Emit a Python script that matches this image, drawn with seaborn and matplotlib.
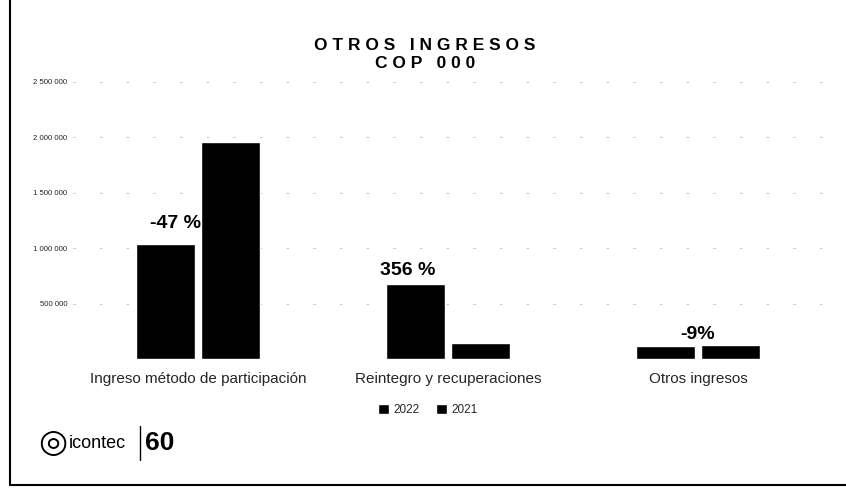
import matplotlib
matplotlib.use("Agg")
import matplotlib.pyplot as plt
import seaborn as sns
import pandas as pd
from matplotlib.lines import Line2D
from matplotlib.ticker import FuncFormatter

# ---- data ----
categories = ["Ingreso método de participación", "Reintegro y recuperaciones", "Otros ingresos"]
years = ["2022", "2021"]
values_2022 = [1040000, 675000, 118000]
values_2021 = [1960000, 148000, 130000]
pct_labels = ["-47 %", "356 %", "-9%"]
y_ticks = [500000, 1000000, 1500000, 2000000, 2500000]

sns.set_theme(style="white")
plt.rcParams["font.family"] = ["Liberation Sans", "DejaVu Sans"]

df = pd.DataFrame({
    "categoria": categories * 2,
    "año": [years[0]] * 3 + [years[1]] * 3,
    "valor": values_2022 + values_2021,
})

fig = plt.figure(figsize=(8.46, 5.0), dpi=100)
ax = fig.add_axes([73 / 846, 1 - 359 / 500, 750 / 846, 289 / 500])

sns.barplot(data=df, x="categoria", y="valor", hue="año", hue_order=years,
            order=categories, palette=["#000000", "#000000"], width=0.52, gap=0.1,
            saturation=1, ax=ax, legend=True, zorder=3)

ax.set_xlim(-0.5, 2.5)
ax.set_ylim(0, 2608000)
ax.set_yticks(y_ticks)
ax.yaxis.set_major_formatter(FuncFormatter(lambda v, p: f"{int(v):,}".replace(",", " ")))
ax.tick_params(axis="y", labelsize=5.6, length=0, pad=4)
ax.tick_params(axis="x", labelsize=11, length=0, pad=9)
ax.set_xlabel("")
ax.set_ylabel("")
for s in ax.spines.values():
    s.set_visible(False)
for t in y_ticks:
    ax.axhline(t, color="#c4c4c4", lw=0.8, ls=(0, (2, 22)), zorder=1)

# percentage labels
x_off = [-0.09, -0.16, 0.0]
y_off_px = [12, 5, 2]
for i, lab in enumerate(pct_labels):
    yv = max(values_2022[i], values_2021[i]) if i == 2 else values_2022[i]
    ax.annotate(lab, xy=(i + x_off[i], yv), xytext=(0, y_off_px[i] * 0.72),
                textcoords="offset points", ha="center", va="bottom",
                fontsize=14, fontweight="bold", color="#000000")

# legend
handles, labels = ax.get_legend_handles_labels()
ax.legend_.remove()
fig.legend(handles, labels, loc="center", bbox_to_anchor=(428 / 846, 1 - 410 / 500),
           ncol=2, frameon=False, fontsize=8.5, handlelength=0.9, handleheight=0.9,
           handletextpad=0.4, columnspacing=1.4)

# title
fig.text(425 / 846, 1 - 45 / 500, "O T R O S   I N G R E S O S", ha="center", va="center",
         fontsize=12.5, fontweight="bold", color="#000000")
fig.text(425 / 846, 1 - 64 / 500, "C O P   0 0 0", ha="center", va="center",
         fontsize=12.5, fontweight="bold", color="#000000")

# scan frame
fig.add_artist(Line2D([10 / 846, 10 / 846], [1 - 485 / 500, 1.0], color="#000000", lw=1.5))
fig.add_artist(Line2D([10 / 846, 1.0], [1 - 485 / 500, 1 - 485 / 500], color="#000000", lw=1.5))

# logo
fig.text(53 / 846, 1 - 443 / 500, "◎", ha="center", va="center", fontsize=24,
         family="DejaVu Sans", color="#000000")
fig.text(69 / 846, 1 - 443 / 500, "icontec", ha="left", va="center", fontsize=13,
         color="#000000")
fig.add_artist(Line2D([140 / 846, 140 / 846], [1 - 460 / 500, 1 - 426 / 500], color="#000000", lw=1))
fig.text(145 / 846, 1 - 443 / 500, "60", ha="left", va="center", fontsize=19,
         fontweight="bold", color="#000000")

fig.savefig("out.png", dpi=100)
